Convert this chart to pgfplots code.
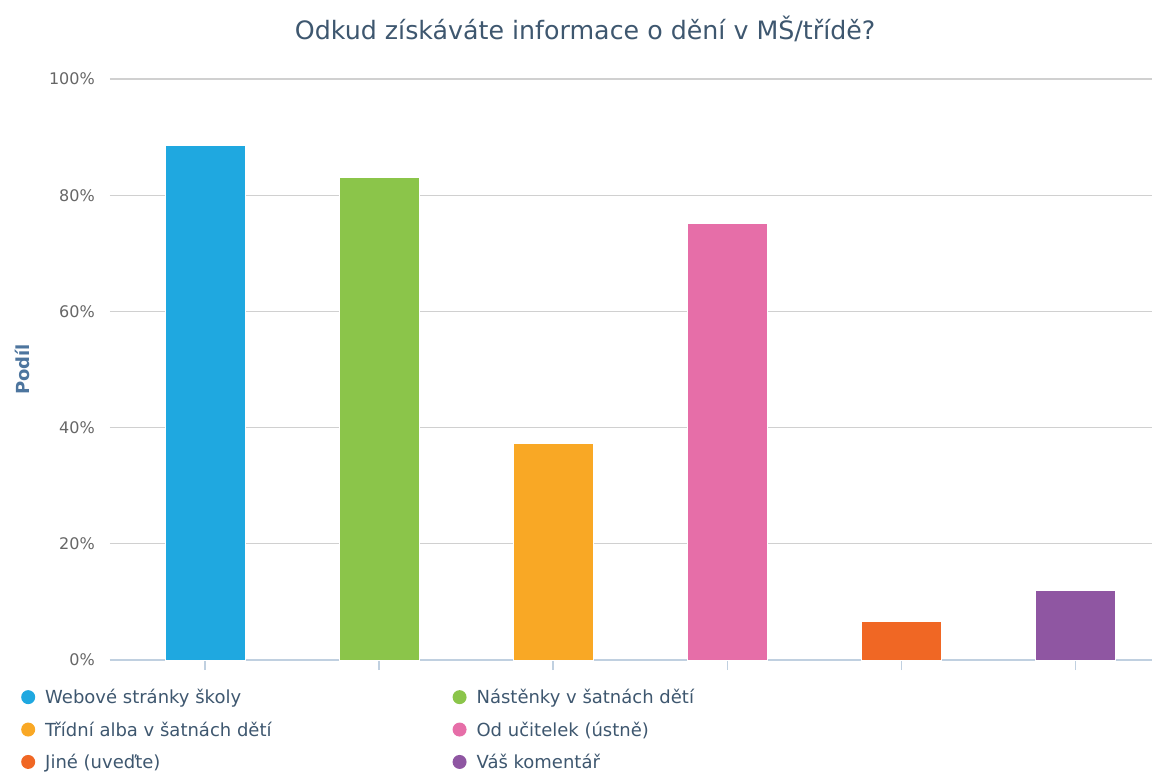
\documentclass[border=0pt]{standalone}
\usepackage{fontspec}
\setmainfont{DejaVu Sans}
\usepackage{pgfplots}
\pgfplotsset{compat=1.18}

\definecolor{cweb}{HTML}{1FA8E0}
\definecolor{cnast}{HTML}{8BC54A}
\definecolor{calba}{HTML}{F9A825}
\definecolor{cucit}{HTML}{E66EA8}
\definecolor{cjine}{HTML}{F06724}
\definecolor{ckom}{HTML}{8F56A2}
\definecolor{titlec}{HTML}{3E576F}
\definecolor{ylabc}{HTML}{4D759E}
\definecolor{tickc}{HTML}{666666}
\definecolor{gridc}{HTML}{D0D0D0}
\definecolor{axisc}{HTML}{C0D0E0}

\pgfplotsset{
  mybar/.style={ybar, bar width=80pt, bar shift=0pt, fill=#1, draw=white, line width=1pt,
    legend image code/.code={\fill[##1,draw=none] (7pt,0pt) circle (7pt);}}
}

\begin{document}
\begin{tikzpicture}
  \begin{axis}[
      scale only axis, width=1042pt, height=581pt,
      xmin=-0.546, xmax=5.44, ymin=0, ymax=100,
      xtick={0,1,2,3,4,5}, xticklabels={},
      ytick={0,20,40,60,80,100},
      yticklabel={\pgfmathprintnumber{\tick}\%},
      /pgf/number format/assume math mode=true,
      separate axis lines,
      axis x line*=bottom, axis y line*=left,
      x axis line style={draw=axisc, line width=1.5pt, -},
      y axis line style={draw=none},
      xtick style={draw=axisc, line width=1.5pt},
      ytick style={draw=none},
      tick align=outside, major tick length=10pt,
      ymajorgrids, grid style={draw=gridc, line width=1.3pt},
      tick label style={font=\fontsize{16}{19}\selectfont, text=tickc},
      yticklabel style={inner sep=0pt, xshift=-5pt},
      title={Odkud získáváte informace o dění v MŠ/třídě?},
      title style={font=\fontsize{25.3}{30}\selectfont, text=titlec,
        at={(axis description cs:0.456,1)}, anchor=base, yshift=33pt},
      ylabel={Podíl},
      every axis y label/.style={at={(axis description cs:0,0.5)}, rotate=90,
        anchor=center, yshift=88pt, font=\bfseries\fontsize{18}{22}\selectfont, text=ylabc},
      legend columns=2,
      legend cell align=left,
      legend style={draw=none, fill=none, inner sep=0pt,
        at={(axis description cs:0,0)}, anchor=north west, xshift=-89pt, yshift=-29pt,
        font=\fontsize{18}{22}\selectfont, text=titlec,
        nodes={inner sep=0pt}, row sep=16.5pt, column sep=0pt,
        /tikz/every odd column/.append style={column sep=10pt},
        /tikz/every even column/.append style={column sep=181pt}},
    ]
    \addplot[mybar=cweb]  coordinates {(0,88.6)};
    \addplot[mybar=cnast] coordinates {(1,83.1)};
    \addplot[mybar=calba] coordinates {(2,37.3)};
    \addplot[mybar=cucit] coordinates {(3,75.2)};
    \addplot[mybar=cjine] coordinates {(4,6.6)};
    \addplot[mybar=ckom]  coordinates {(5,11.9)};
    \legend{Webové stránky školy, Nástěnky v šatnách dětí,
      Třídní alba v šatnách dětí, Od učitelek (ústně),
      Jiné (uveďte), Váš komentář}
  \end{axis}
  \pgfresetboundingbox
  \useasboundingbox (-110pt,-114pt) rectangle (1045pt,660pt);
\end{tikzpicture}
\end{document}
